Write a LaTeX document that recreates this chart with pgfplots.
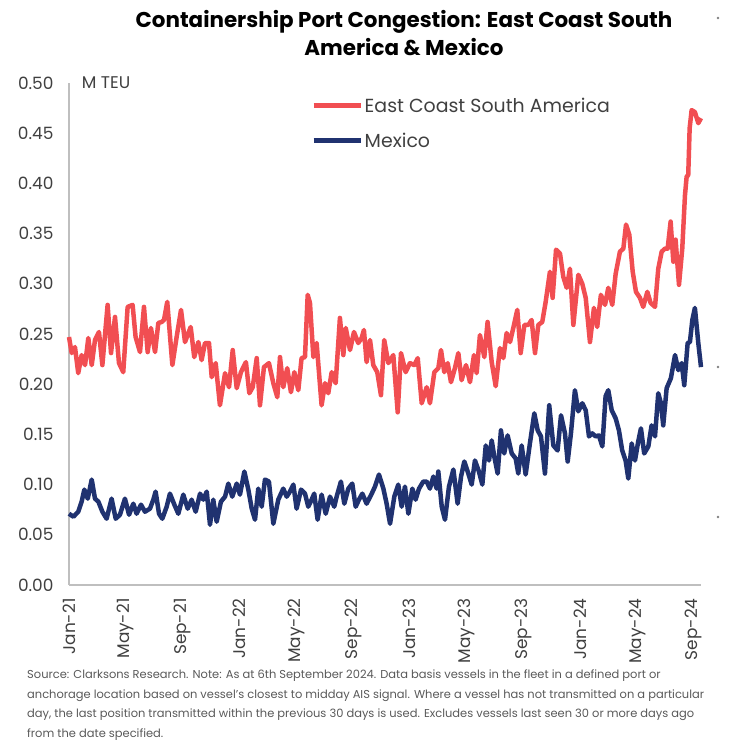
\documentclass[border=0pt]{standalone}
\usepackage{fontspec}
\setmainfont{Poppins}
\usepackage{pgfplots}
\pgfplotsset{compat=1.18}
\definecolor{ecsa}{RGB}{241,78,82}
\definecolor{mex}{RGB}{32,50,112}
\definecolor{axgray}{RGB}{191,191,191}
\definecolor{txtgray}{RGB}{64,64,64}
\definecolor{notegray}{RGB}{89,89,89}

\begin{document}
\begin{tikzpicture}
\useasboundingbox (0,0) rectangle (744bp,742bp);

% title
\node[align=center, font=\fontsize{21.5}{29}\selectfont\bfseries, text=black]
  at (404bp,709bp) {Containership Port Congestion: East Coast South\\America \& Mexico};

\begin{axis}[
  at={(69bp,157bp)}, anchor=south west,
  scale only axis,
  width=632bp, height=502bp,
  xmin=0, xmax=44.51,
  ymin=0, ymax=0.5,
  axis x line*=bottom, axis y line*=left,
  axis line style={axgray, line width=1.2bp, -},
  major tick length=0pt,
  xtick={0,4,8,12,16,20,24,28,32,36,40,44},
  xticklabels={Jan-21,May-21,Sep-21,Jan-22,May-22,Sep-22,Jan-23,May-23,Sep-23,Jan-24,May-24,Sep-24},
  xticklabel style={rotate=90, anchor=east, font=\fontsize{17}{17}\selectfont, text=txtgray},
  ytick={0,0.05,...,0.5},
  yticklabel style={font=\fontsize{17}{17}\selectfont, text=txtgray,
    /pgf/number format/.cd, fixed, fixed zerofill, precision=2, assume math mode=true},
  xticklabel shift=10bp,
  yticklabel shift=12bp,
  legend style={at={(0.383,0.975)}, anchor=north west, draw=none, fill=none,
    font=\fontsize{19}{19}\selectfont, text=txtgray, row sep=15bp, inner sep=0pt},
  legend cell align=left,
  legend image code/.code={\draw[#1] (0bp,0bp) -- (47bp,0bp);},
  clip=false,
]
\addplot[ecsa, line width=4.5bp, line join=round] coordinates {
(0.00,0.247)(0.19,0.231)(0.42,0.237)(0.65,0.211)(0.89,0.229)(1.13,0.219)(1.36,0.246)(1.60,0.219)(1.83,0.244)(2.11,0.252)(2.35,0.219)(2.72,0.279)(2.96,0.231)(3.24,0.267)(3.52,0.221)(3.82,0.212)(4.13,0.277)(4.48,0.279)(4.69,0.247)(5.00,0.232)(5.28,0.277)(5.54,0.232)(5.77,0.256)(6.06,0.232)(6.29,0.261)(6.53,0.262)(6.69,0.264)(6.92,0.282)(7.28,0.219)(7.58,0.247)(7.89,0.274)(8.17,0.242)(8.57,0.257)(8.82,0.227)(9.11,0.242)(9.34,0.224)(9.58,0.241)(9.86,0.241)(10.05,0.207)(10.33,0.221)(10.63,0.179)(10.99,0.211)(11.27,0.197)(11.53,0.234)(11.81,0.196)(12.11,0.212)(12.46,0.222)(12.70,0.191)(12.94,0.197)(13.22,0.226)(13.45,0.179)(13.73,0.217)(14.08,0.221)(14.39,0.201)(14.67,0.187)(14.86,0.227)
(15.09,0.197)(15.37,0.216)(15.63,0.192)(15.87,0.212)(16.15,0.194)(16.38,0.226)(16.62,0.227)(16.81,0.289)(16.97,0.281)(17.21,0.227)(17.44,0.241)(17.79,0.179)(18.03,0.201)(18.26,0.191)(18.50,0.212)(18.78,0.201)(19.08,0.266)(19.32,0.229)(19.49,0.256)(19.79,0.234)(20.07,0.252)(20.37,0.241)(20.61,0.246)(20.77,0.254)(20.96,0.222)(21.20,0.244)(21.43,0.219)(21.71,0.212)(21.97,0.189)(22.20,0.244)(22.49,0.221)(22.84,0.229)(23.15,0.172)(23.38,0.231)(23.71,0.212)(24.01,0.221)(24.32,0.219)(24.56,0.226)(24.84,0.181)(25.19,0.197)(25.42,0.181)(25.73,0.212)(26.01,0.216)(26.20,0.234)(26.43,0.212)(26.67,0.221)(26.90,0.202)(27.18,0.216)(27.42,0.231)(27.65,0.204)(27.96,0.219)(28.24,0.202)(28.52,0.229)(28.71,0.211)(28.94,0.249)(29.25,0.227)(29.48,0.262)
(29.77,0.222)(30.05,0.198)(30.35,0.236)(30.59,0.226)(30.82,0.251)(31.06,0.242)(31.29,0.256)(31.57,0.274)(31.81,0.231)(32.07,0.259)(32.35,0.259)(32.58,0.264)(32.82,0.231)(33.05,0.259)(33.33,0.262)(33.57,0.282)(33.87,0.312)(34.06,0.286)(34.30,0.334)(34.58,0.330)(34.81,0.307)(35.05,0.296)(35.28,0.315)(35.52,0.259)(35.87,0.309)(36.15,0.300)(36.39,0.286)(36.69,0.242)(36.97,0.276)(37.20,0.257)(37.46,0.289)(37.75,0.279)(37.98,0.296)(38.26,0.279)(38.50,0.310)(38.80,0.332)(39.04,0.335)(39.23,0.359)(39.46,0.349)(39.70,0.312)(39.93,0.292)(40.21,0.286)(40.44,0.277)(40.73,0.292)(40.96,0.281)(41.27,0.277)(41.50,0.315)(41.74,0.332)(41.97,0.335)(42.16,0.335)(42.37,0.362)(42.56,0.322)(42.72,0.344)(42.96,0.299)(43.19,0.335)(43.38,0.388)(43.50,0.407)(43.61,0.408)(43.71,0.455)(43.85,0.473)(44.08,0.471)(44.32,0.460)(44.51,0.465)
};
\addlegendentry{East Coast South America}
\addplot[mex, line width=4.5bp, line join=round] coordinates {
(0.00,0.071)(0.31,0.068)(0.65,0.073)(0.89,0.083)(1.08,0.095)(1.32,0.086)(1.60,0.105)(1.83,0.086)(2.07,0.083)(2.35,0.073)(2.65,0.066)(3.00,0.086)(3.29,0.066)(3.59,0.070)(3.94,0.086)(4.23,0.070)(4.53,0.081)(4.76,0.071)(5.07,0.080)(5.35,0.073)(5.70,0.076)(5.94,0.085)(6.10,0.093)(6.34,0.071)(6.57,0.066)(6.88,0.078)(7.11,0.091)(7.42,0.080)(7.70,0.071)(8.05,0.090)(8.36,0.076)(8.64,0.085)(8.92,0.073)(9.23,0.091)(9.46,0.085)(9.70,0.093)(9.93,0.060)(10.16,0.085)(10.40,0.063)(10.70,0.083)(10.99,0.088)(11.22,0.101)(11.50,0.088)(11.81,0.101)(12.04,0.090)(12.35,0.113)(12.63,0.095)(12.87,0.076)(13.10,0.065)(13.33,0.096)(13.57,0.078)(13.80,0.105)(14.08,0.103)(14.39,0.061)(14.74,0.085)
(15.09,0.096)(15.33,0.088)(15.56,0.093)(15.80,0.100)(16.03,0.076)(16.34,0.095)(16.62,0.091)(16.85,0.078)(17.09,0.085)(17.27,0.091)(17.51,0.065)(17.79,0.090)(18.08,0.071)(18.38,0.088)(18.68,0.078)(18.85,0.088)(19.15,0.103)(19.39,0.081)(19.67,0.096)(19.95,0.101)(20.19,0.078)(20.42,0.085)(20.66,0.091)(20.96,0.081)(21.32,0.091)(21.55,0.098)(21.83,0.110)(22.14,0.096)(22.37,0.081)(22.61,0.061)(22.91,0.088)(23.19,0.100)(23.43,0.078)(23.66,0.098)(23.90,0.071)(24.18,0.096)(24.41,0.085)(24.65,0.096)(24.95,0.103)(25.19,0.103)(25.42,0.096)(25.66,0.108)(25.89,0.096)(26.01,0.113)(26.25,0.078)(26.48,0.065)(26.76,0.098)(27.07,0.115)(27.37,0.081)(27.61,0.108)(27.84,0.123)(28.08,0.113)(28.36,0.100)(28.59,0.124)(28.87,0.113)(29.11,0.100)(29.35,0.139)(29.58,0.124)
(29.77,0.144)(29.95,0.128)(30.19,0.111)(30.42,0.154)(30.65,0.131)(30.89,0.149)(31.18,0.131)(31.46,0.126)(31.64,0.111)(31.88,0.139)(32.16,0.110)(32.46,0.141)(32.77,0.171)(33.01,0.154)(33.24,0.148)(33.52,0.111)(33.82,0.179)(34.11,0.139)(34.41,0.134)(34.65,0.169)(34.93,0.151)(35.12,0.123)(35.35,0.151)(35.63,0.194)(35.87,0.173)(36.15,0.181)(36.39,0.174)(36.62,0.148)(36.85,0.151)(37.09,0.148)(37.32,0.149)(37.56,0.138)(37.79,0.188)(37.98,0.194)(38.22,0.174)(38.50,0.166)(38.73,0.154)(38.96,0.134)(39.20,0.124)(39.39,0.106)(39.63,0.141)(39.86,0.124)(40.09,0.143)(40.28,0.156)(40.51,0.131)(40.80,0.138)(41.03,0.159)(41.27,0.148)(41.50,0.191)(41.69,0.181)(41.85,0.159)(42.09,0.196)(42.39,0.206)(42.68,0.229)(42.91,0.214)(43.15,0.221)(43.33,0.199)(43.57,0.241)(43.73,0.242)(43.90,0.264)(44.08,0.276)(44.32,0.241)(44.51,0.217)
};
\addlegendentry{Mexico}
\node[anchor=west, font=\fontsize{17}{17}\selectfont, text=txtgray, inner sep=0pt]
  at (rel axis cs:0.02,1) {M TEU};
\end{axis}

% source note
\node[anchor=north west, align=left, inner sep=0pt, text=notegray,
  font=\fontsize{11.5}{19.5}\selectfont] at (27bp,72bp)
{Source: Clarksons Research. Note: As at 6th September 2024. Data basis vessels in the fleet in a defined port or\\
anchorage location based on vessel's closest to midday AIS signal. Where a vessel has not transmitted on a particular\\
day, the last position transmitted within the previous 30 days is used. Excludes vessels last seen 30 or more days ago\\
from the date specified.};

% stray markers at the right edge
\fill[gray] (718bp,724bp) circle (1.3bp);
\fill[gray] (718bp,375bp) circle (1.3bp);
\fill[gray] (718bp,225bp) circle (1.3bp);
\end{tikzpicture}
\end{document}
